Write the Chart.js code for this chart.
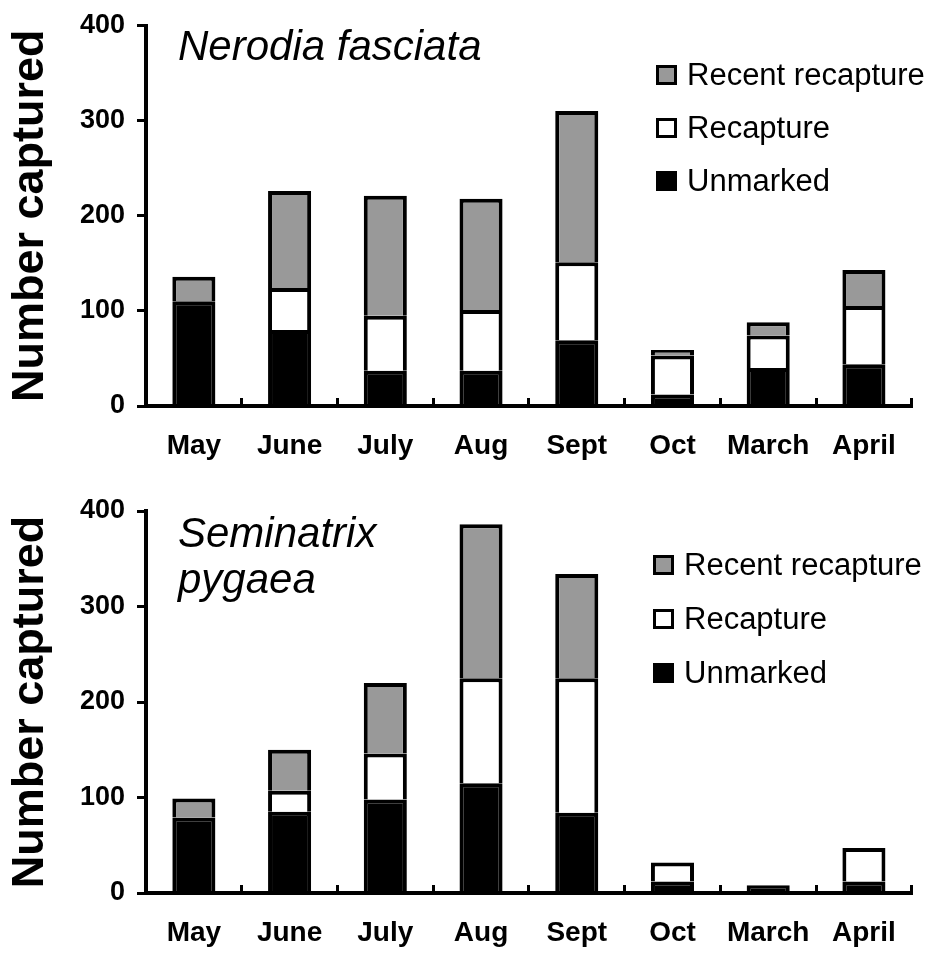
<!DOCTYPE html>
<html>
<head>
<meta charset="utf-8">
<script src="https://cdn.jsdelivr.net/npm/chart.js@4"></script>
<style>
  html, body { margin: 0; padding: 0; background: #fff; }
  .panel { position: relative; width: 930px; }
  #topPanel { height: 475px; }
  #bottomPanel { height: 478px; }
</style>
</head>
<body>
<div class="panel" id="topPanel"><canvas id="nerodiaChart"></canvas></div>
<div class="panel" id="bottomPanel"><canvas id="seminatrixChart"></canvas></div>
<script>
const months = ["May", "June", "July", "Aug", "Sept", "Oct", "March", "April"];
const yTicks = [0, 100, 200, 300, 400];

// Nerodia fasciata
const nerodiaUnmarked = [110, 80, 37, 37, 69, 12, 40, 44];
const nerodiaRecapture = [null, 44, 58, 64, 82, 41, 34, 61];
const nerodiaRecent = [26, 102, 126, 117, 159, 6, 14, 38];

// Seminatrix pygaea
const seminatrixUnmarked = [79, 85, 98, 115, 84, 12, 8, 12];
const seminatrixRecapture = [null, 22, 48, 110, 141, 20, null, 35];
const seminatrixRecent = [20, 43, 74, 161, 109, null, null, null];

const FONT = "'Liberation Sans', Arial, sans-serif";

// species name + legend drawn inside the plot
const overlayPlugin = {
    id: "overlay",
    afterDraw(chart, args, opts) {
        const ctx = chart.ctx;
        ctx.save();
        ctx.fillStyle = "#000";
        ctx.textBaseline = "alphabetic";
        ctx.textAlign = "left";
        ctx.font = "italic 42px " + FONT;
        opts.title.forEach((line, i) => {
            ctx.fillText(line, opts.titleX, opts.titleY + i * 46);
        });

        ctx.font = "31px " + FONT;
        const sets = chart.data.datasets.slice().reverse();
        sets.forEach((ds, i) => {
            const y = opts.legendY + i * opts.legendGap;
            ctx.fillStyle = ds.backgroundColor;
            ctx.fillRect(opts.legendX, y - 20, 21, 20);
            ctx.lineWidth = 3;
            ctx.strokeStyle = "#000";
            ctx.strokeRect(opts.legendX + 1.5, y - 18.5, 18, 17);
            ctx.fillStyle = "#000";
            ctx.fillText(ds.label, opts.legendX + 31, y);
        });
        ctx.restore();
    }
};

function makeChart(canvasId, unmarked, recapture, recent, cfg) {
    const ctx = document.getElementById(canvasId).getContext("2d");
    const barStyle = {
        borderColor: "#000",
        borderWidth: 4,
        categoryPercentage: 1.0,
        barPercentage: 0.45
    };
    return new Chart(ctx, {
        type: "bar",
        data: {
            labels: months,
            datasets: [
                Object.assign({ label: "Unmarked", data: unmarked, backgroundColor: "#000000" }, barStyle),
                Object.assign({ label: "Recapture", data: recapture, backgroundColor: "#ffffff" }, barStyle),
                Object.assign({ label: "Recent recapture", data: recent, backgroundColor: "#999999" }, barStyle)
            ]
        },
        options: {
            responsive: true,
            maintainAspectRatio: false,
            animation: false,
            layout: { padding: { top: cfg.padTop, right: 3, left: 0, bottom: 0 } },
            plugins: {
                legend: { display: false },
                tooltip: { enabled: false },
                overlay: cfg.overlay
            },
            scales: {
                x: {
                    stacked: true,
                    offset: true,
                    grid: {
                        offset: true,
                        drawOnChartArea: false,
                        drawTicks: true,
                        tickLength: -8,
                        color: "#000",
                        lineWidth: 3
                    },
                    border: { display: true, color: "#000", width: 4 },
                    ticks: {
                        color: "#000",
                        padding: 34,
                        font: { family: FONT, weight: "bold", size: 28, lineHeight: 1 }
                    },
                    afterFit: s => { s.height = cfg.xHeight; }
                },
                y: {
                    stacked: true,
                    min: 0,
                    max: 400,
                    afterBuildTicks: s => { s.ticks = yTicks.map(v => ({ value: v })); },
                    grid: {
                        drawOnChartArea: false,
                        drawTicks: true,
                        tickLength: 9,
                        color: "#000",
                        lineWidth: 3
                    },
                    border: { display: true, color: "#000", width: 4 },
                    ticks: {
                        color: "#000",
                        padding: 12,
                        font: { family: FONT, weight: "bold", size: 27, lineHeight: 1 }
                    },
                    title: {
                        display: true,
                        text: "Number captured",
                        color: "#000",
                        padding: { top: 8, bottom: 0 },
                        font: { family: FONT, weight: "bold", size: 45, lineHeight: 1 }
                    },
                    afterFit: s => { s.width = 146; }
                }
            }
        },
        plugins: [overlayPlugin]
    });
}

makeChart("nerodiaChart", nerodiaUnmarked, nerodiaRecapture, nerodiaRecent, {
    padTop: 21,
    xHeight: 69,
    overlay: { title: ["Nerodia fasciata"], titleX: 178, titleY: 60, legendX: 656, legendY: 85, legendGap: 53 }
});

makeChart("seminatrixChart", seminatrixUnmarked, seminatrixRecapture, seminatrixRecent, {
    padTop: 36,
    xHeight: 60,
    overlay: { title: ["Seminatrix", "pygaea"], titleX: 178, titleY: 72, legendX: 653, legendY: 100, legendGap: 54 }
});
</script>
</body>
</html>
